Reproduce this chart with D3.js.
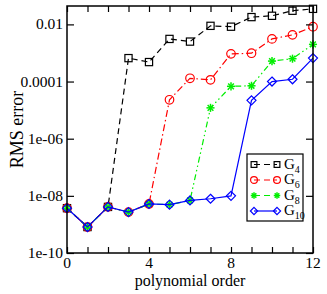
<!DOCTYPE html>
<meta charset="utf-8">
<style>
body { margin: 0; background: #fff; }
text { font-family: "Liberation Serif", "Times New Roman", serif; }
</style>
<body>
<script src="https://cdn.jsdelivr.net/npm/d3@7"></script>
<script>
var orders = [0, 1, 2, 3, 4, 5, 6, 7, 8, 9, 10, 11, 12];
var g4  = [3.7e-9, 8.1e-10, 4.1e-9, 6.6e-4, 4.8e-4, 3.1e-3, 2.5e-3, 8.9e-3, 8.3e-3, 1.8e-2, 2.0e-2, 3.0e-2, 3.5e-2];
var g6  = [3.7e-9, 8.1e-10, 4.1e-9, 2.7e-9, 5.2e-9, 2.3e-5, 1.3e-4, 1.15e-4, 9.3e-4, 9.8e-4, 3.1e-3, 4.3e-3, 8.3e-3];
var g8  = [3.7e-9, 8.1e-10, 4.1e-9, 2.7e-9, 5.2e-9, 4.9e-9, 6.9e-9, 1.2e-5, 6.8e-5, 7.1e-5, 5.2e-4, 6.3e-4, 2.0e-3];
var g10 = [3.7e-9, 8.1e-10, 4.1e-9, 2.7e-9, 5.2e-9, 4.9e-9, 6.9e-9, 7.9e-9, 1.0e-8, 2.2e-5, 1.0e-4, 1.2e-4, 6.6e-4];
var seriesNames = ["4", "6", "8", "10"];
var xTicks = [0, 4, 8, 12];
var yTicks = [1e-10, 1e-8, 1e-6, 1e-4, 1e-2];
var yTickLabels = ["1e-10", "1e-08", "1e-06", "0.0001", "0.01"];

var margin = {top: 6, right: 14, bottom: 41, left: 67};
var width = 327 - margin.left - margin.right;
var height = 294 - margin.top - margin.bottom;

var svg = d3.select("body").append("svg")
  .attr("width", 327).attr("height", 294)
  .append("g")
  .attr("transform", "translate(" + margin.left + "," + margin.top + ")");

var x = d3.scaleLinear().domain([0, 12]).range([0, width]);
var y = d3.scaleLog().domain([1e-10, 0.044]).range([height, 0]);

var series = [
  {name: seriesNames[0], values: g4,  color: "#000", dash: "6,4", marker: "square"},
  {name: seriesNames[1], values: g6,  color: "#ff0000", dash: "7,3,1.5,3", marker: "circle"},
  {name: seriesNames[2], values: g8,  color: "#00ee00", dash: "6,3,1.5,3,1.5,3", marker: "star"},
  {name: seriesNames[3], values: g10, color: "#0000ff", dash: null, marker: "diamond"}
];

function drawMarker(g, type, cx, cy, color, r) {
  if (type == "square") {
    g.append("rect").attr("x", cx - r * 0.8).attr("y", cy - r * 0.8).attr("width", r * 1.6).attr("height", r * 1.6)
      .attr("fill", "none").attr("stroke", color).attr("stroke-width", 1.2);
  } else if (type == "circle") {
    g.append("circle").attr("cx", cx).attr("cy", cy).attr("r", r * 0.95)
      .attr("fill", "none").attr("stroke", color).attr("stroke-width", 1.2);
  } else if (type == "star") {
    for (var k = 0; k < 4; k++) {
      var a = k * Math.PI / 4;
      g.append("line")
        .attr("x1", cx - r * 0.9 * Math.cos(a)).attr("y1", cy - r * 0.9 * Math.sin(a))
        .attr("x2", cx + r * 0.9 * Math.cos(a)).attr("y2", cy + r * 0.9 * Math.sin(a))
        .attr("stroke", color).attr("stroke-width", 1.5);
    }
  } else {
    g.append("path").attr("d", "M" + cx + "," + (cy - r) + "L" + (cx + r) + "," + cy +
        "L" + cx + "," + (cy + r) + "L" + (cx - r) + "," + cy + "Z")
      .attr("fill", "none").attr("stroke", color).attr("stroke-width", 1.2);
  }
}

var line = d3.line()
  .x(function(d, i) { return x(orders[i]); })
  .y(function(d) { return y(d); });

series.forEach(function(s) {
  svg.append("path")
    .attr("d", line(s.values))
    .attr("fill", "none")
    .attr("stroke", s.color)
    .attr("stroke-width", 1.2)
    .attr("stroke-dasharray", s.dash);
  var mg = svg.append("g");
  s.values.forEach(function(v, i) {
    drawMarker(mg, s.marker, x(orders[i]), y(v), s.color, 4.5);
  });
});

// axes with inward ticks on all four sides
svg.append("g")
  .attr("transform", "translate(0," + height + ")")
  .call(d3.axisBottom(x).tickValues(orders).tickSizeInner(-6).tickSizeOuter(0).tickFormat(""));
svg.append("g")
  .call(d3.axisTop(x).tickValues(orders).tickSizeInner(-6).tickSizeOuter(0).tickFormat(""));
svg.append("g")
  .call(d3.axisLeft(y).tickValues(yTicks).tickSizeInner(-7).tickSizeOuter(0).tickFormat(""));
svg.append("g")
  .attr("transform", "translate(" + width + ",0)")
  .call(d3.axisRight(y).tickValues(yTicks).tickSizeInner(-7).tickSizeOuter(0).tickFormat(""));
svg.selectAll(".domain").remove();
svg.selectAll(".tick line").attr("stroke", "#000").attr("stroke-width", 1.2);

svg.append("rect")
  .attr("width", width).attr("height", height)
  .attr("fill", "none").attr("stroke", "#000").attr("stroke-width", 1.5);

// tick labels
svg.selectAll(".xlab").data(xTicks).enter().append("text")
  .attr("x", function(d) { return x(d); })
  .attr("y", height + 15)
  .attr("text-anchor", "middle")
  .style("font-size", "15.5px")
  .text(function(d) { return d; });

svg.selectAll(".ylab").data(yTicks).enter().append("text")
  .attr("x", -4)
  .attr("y", function(d) { return y(d) + 5; })
  .attr("text-anchor", "end")
  .style("font-size", "15.5px")
  .text(function(d, i) { return yTickLabels[i]; });

svg.append("text")
  .attr("x", width / 2)
  .attr("y", height + 33)
  .attr("text-anchor", "middle")
  .style("font-size", "16px")
  .text("polynomial order");

svg.append("text")
  .attr("transform", "translate(" + (-44) + "," + (height / 2) + ") rotate(-90)")
  .attr("text-anchor", "middle")
  .style("font-size", "18px")
  .text("RMS error");

// legend
var lg = svg.append("g").attr("transform", "translate(" + (247 - margin.left) + "," + (154 - margin.top) + ")");
lg.append("rect").attr("width", 56).attr("height", 67)
  .attr("fill", "#fff").attr("stroke", "#000").attr("stroke-width", 1.2);
series.forEach(function(s, i) {
  var ly = 10.5 + i * 15.5;
  lg.append("line").attr("x1", 7).attr("x2", 30).attr("y1", ly).attr("y2", ly)
    .attr("stroke", s.color).attr("stroke-width", 1.2).attr("stroke-dasharray", s.dash ? "6,4" : null);
  drawMarker(lg, s.marker, 7, ly, s.color, 3.6);
  drawMarker(lg, s.marker, 30, ly, s.color, 3.6);
  var t = lg.append("text").attr("x", 37).attr("y", ly + 4).style("font-size", "15px");
  t.append("tspan").text("G");
  t.append("tspan").attr("dy", 4).style("font-size", "10px").text(s.name);
});
</script>
</body>
